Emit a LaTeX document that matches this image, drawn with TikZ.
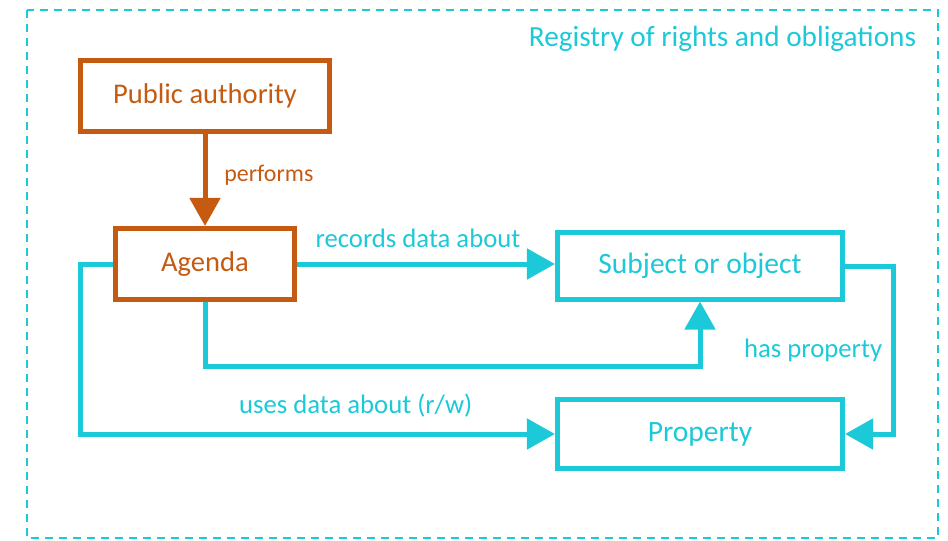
\documentclass[tikz,border=0pt]{standalone}
\usepackage{fontspec}
\setmainfont{Carlito}
\usetikzlibrary{arrows.meta}
\definecolor{regcyan}{RGB}{27,201,216}
\definecolor{authorange}{RGB}{197,90,17}
\tikzset{
  box/.style={draw=#1, text=#1, line width=0.125cm, fill=white, inner sep=0pt, font=\fontsize{20.3}{24}\selectfont},
  lbl/.style={inner sep=2pt, font=\fontsize{19}{22}\selectfont},
  link/.style={line width=0.125cm, ->},
}
\begin{document}
\begin{tikzpicture}[x=0.025cm, y=-0.025cm, line join=miter, >={Triangle[length=0.7cm,width=0.75cm]}]
	\useasboundingbox (0,0) rectangle (948,540);
	% registry frame
	\draw[regcyan, line width=0.05cm, dash pattern=on 0.2cm off 0.15cm] (27,10) rectangle (938,538);
	\node[regcyan, anchor=east, font=\fontsize{20.8}{24}\selectfont] (reg) at (921,39) {Registry of rights and obligations};
	\path
	(205,96) node[box=authorange, minimum width=6.225cm, minimum height=1.75cm] (pa) {Public authority}
	(205,264) node[box=authorange, minimum width=4.45cm, minimum height=1.775cm] (agenda) {Agenda}
	(700,266) node[box=regcyan, font=\fontsize{21}{24}\selectfont, minimum width=7.125cm, minimum height=1.65cm] (subj) {Subject or object}
	(700,434) node[box=regcyan, font=\fontsize{21}{24}\selectfont, minimum width=7.125cm, minimum height=1.7cm] (prop) {Property};
	% connectors
	\draw[link, authorange] (pa) -- node[lbl, font=\fontsize{17}{20}\selectfont, pos=0.45, right=10pt] {performs} (agenda);
	\draw[link, regcyan] (agenda.east) -- node[lbl, above=8pt, pos=0.47] {records data about} (agenda.east -| subj.west);
	\draw[link, regcyan] (agenda.south) -- ++(0,64) -| (subj.south);
	\draw[link, regcyan] (agenda.west) -- ++(-33,0) |- node[lbl, pos=0.79, above=8pt] {uses data about (r/w)} (prop.west);
	\draw[link, regcyan] (subj.east) -- ++(48,0) |- node[lbl, pos=0.25, left=4pt] {has property} (prop.east);
\end{tikzpicture}
\end{document}
